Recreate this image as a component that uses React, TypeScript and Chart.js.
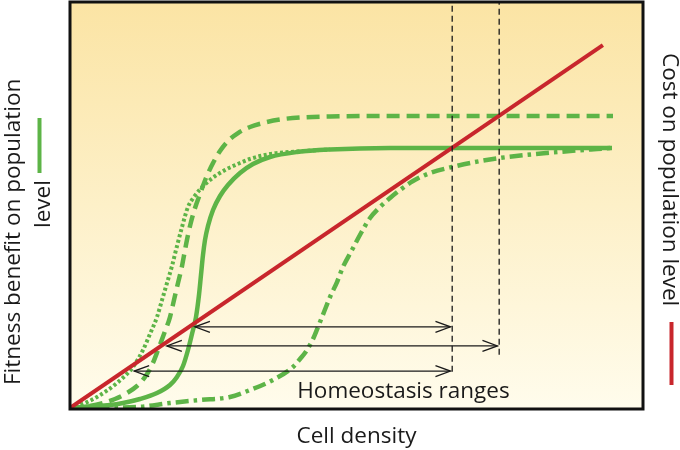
import React, { useEffect, useRef } from "react";
import { Chart, registerables } from "chart.js";

Chart.register(...registerables);

// ---- Data (x: cell density 0..100, y: level 0..100) ----
const solidX = [0, 2.97, 6.98, 9.25, 12.22, 15.18, 17.45, 18.67, 19.72, 20.59, 21.29, 21.99, 22.51, 22.86, 23.21, 23.56, 24.08, 24.96, 26.18, 27.57, 29.67, 31.94, 34.9, 39.62, 45.38, 55.85, 94.59];
const solidY = [0, 0.37, 0.74, 1.23, 2.22, 3.69, 5.67, 7.64, 10.34, 14.29, 18.23, 22.41, 27.83, 32.76, 37.68, 41.38, 44.83, 48.77, 52.22, 54.93, 57.88, 60.1, 61.82, 63.05, 63.67, 64.04, 64.04];

const dashedX = [0, 2.27, 5.76, 7.85, 9.95, 11.69, 13.09, 14.31, 15.36, 16.4, 17.45, 18.15, 18.85, 19.55, 20.07, 20.59, 21.12, 21.82, 22.69, 23.73, 24.96, 26.18, 27.57, 29.32, 31.41, 33.68, 36.65, 40.14, 45.38, 55.85, 94.76];
const dashedY = [0, 0.25, 1.23, 2.22, 3.69, 5.42, 7.64, 10.59, 14.29, 18.23, 22.41, 26.6, 30.79, 34.98, 38.92, 42.61, 45.81, 49.26, 52.71, 56.65, 60.34, 63.3, 65.76, 67.73, 69.21, 70.2, 71.06, 71.55, 71.8, 71.92, 71.92];

const dottedX = [0, 1.75, 4.71, 8.2, 10.99, 12.74, 13.96, 15.18, 16.06, 16.93, 17.8, 18.5, 19.55, 20.59, 21.64, 22.69, 24.43, 27.05, 29.67, 31.41, 34.9, 39.62, 45.38];
const dottedY = [0, 0.74, 2.71, 6.16, 10.1, 14.29, 18.23, 22.41, 26.6, 30.79, 34.98, 38.92, 44.58, 49.51, 51.97, 53.82, 56.16, 58.62, 60.34, 61.33, 62.56, 63.18, 63.67];

const dashDotX = [0, 11.69, 17.45, 22.69, 27.92, 31.41, 35.43, 38.92, 40.14, 41.36, 42.41, 43.28, 44.33, 45.38, 46.6, 47.64, 49.21, 50.79, 52.36, 54.1, 55.85, 57.59, 59.86, 62.83, 66.67, 70.68, 75.04, 83.25, 91.97, 94.59];
const dashDotY = [0, 0.25, 1.23, 1.97, 2.71, 4.43, 6.9, 10.1, 12.07, 14.29, 17.0, 19.95, 23.65, 27.34, 31.03, 34.73, 38.92, 43.1, 46.8, 49.51, 51.72, 53.69, 55.91, 57.88, 59.36, 60.59, 61.58, 62.81, 63.79, 64.04];

const costX = [0, 93.0];
const costY = [0, 89.4];

// vertical dashed markers (homeostasis thresholds)
const markerX = [66.7, 74.9];
const markerBottom = [8.9, 13.1];
const markerTop = 100;

// homeostasis range arrows
const arrowY = [20.0, 15.3, 9.1];
const arrowStart = [21.8, 16.9, 11.2];
const arrowEnd = [66.4, 74.6, 66.4];

const rangeLabel = "Homeostasis ranges";
const rangeLabelX = 58.2;
const rangeLabelY = 2.5;

const xTitle = "Cell density";
const leftTitle = ["Fitness benefit on population", "level"];
const rightTitle = "Cost on population level";

const GREEN = "#5db447";
const RED = "#c8262c";
const INK = "#1a1a1a";
const FONT = "22.5px 'Open Sans'";

const pts = (xs: number[], ys: number[]) => xs.map((x, i) => ({ x, y: ys[i] }));

export default function App() {
  const ref = useRef<HTMLCanvasElement | null>(null);

  useEffect(() => {
    const canvas = ref.current;
    if (!canvas) return;

    const bgPlugin = {
      id: "bg",
      beforeDatasetsDraw(chart: any) {
        const { ctx, chartArea: a } = chart;
        const g = ctx.createLinearGradient(0, a.top, 0, a.bottom);
        g.addColorStop(0, "#fbe4a4");
        g.addColorStop(1, "#fffcec");
        ctx.save();
        ctx.fillStyle = g;
        ctx.fillRect(a.left, a.top, a.right - a.left, a.bottom - a.top);
        ctx.restore();
      },
    };

    const decoPlugin = {
      id: "deco",
      afterDatasetsDraw(chart: any) {
        const { ctx } = chart;
        const xs = chart.scales.x;
        const ys = chart.scales.y;
        ctx.save();
        ctx.strokeStyle = INK;
        ctx.lineWidth = 1.3;
        const head = (tx: number, ty: number, dir: number) => {
          ctx.beginPath();
          ctx.moveTo(tx + dir * 15, ty - 5.5);
          ctx.lineTo(tx, ty);
          ctx.lineTo(tx + dir * 15, ty + 5.5);
          ctx.stroke();
        };
        arrowY.forEach((yv, i) => {
          const py = ys.getPixelForValue(yv);
          head(xs.getPixelForValue(arrowStart[i]), py, 1);
          head(xs.getPixelForValue(arrowEnd[i]), py, -1);
        });
        ctx.fillStyle = INK;
        ctx.font = FONT;
        ctx.textAlign = "center";
        ctx.textBaseline = "alphabetic";
        ctx.fillText(rangeLabel, xs.getPixelForValue(rangeLabelX), ys.getPixelForValue(rangeLabelY));
        ctx.restore();
      },
      afterDraw(chart: any) {
        const { ctx, chartArea: a } = chart;
        ctx.save();
        ctx.strokeStyle = "#111";
        ctx.lineWidth = 3;
        ctx.strokeRect(a.left, a.top, a.right - a.left, a.bottom - a.top + 1);
        ctx.fillStyle = INK;
        ctx.font = FONT;
        ctx.textBaseline = "alphabetic";
        ctx.textAlign = "center";
        ctx.fillText(xTitle, (a.left + a.right) / 2, a.bottom + 35);
        ctx.textAlign = "left";
        ctx.save();
        ctx.translate(a.left - 50, a.bottom - 23);
        ctx.rotate(-Math.PI / 2);
        ctx.fillText(leftTitle[0], 0, 0);
        ctx.restore();
        ctx.save();
        ctx.translate(a.left - 20, a.bottom - 180);
        ctx.rotate(-Math.PI / 2);
        ctx.fillText(leftTitle[1], 0, 0);
        ctx.restore();
        ctx.strokeStyle = GREEN;
        ctx.lineWidth = 4;
        ctx.beginPath();
        ctx.moveTo(a.left - 30.5, a.bottom - 235);
        ctx.lineTo(a.left - 30.5, a.bottom - 290);
        ctx.stroke();
        ctx.save();
        ctx.translate(a.right + 20, a.top + 51);
        ctx.rotate(Math.PI / 2);
        ctx.fillText(rightTitle, 0, 0);
        ctx.restore();
        ctx.strokeStyle = RED;
        ctx.lineWidth = 4;
        ctx.beginPath();
        ctx.moveTo(a.right + 28.5, a.top + 320);
        ctx.lineTo(a.right + 28.5, a.top + 383);
        ctx.stroke();
        ctx.restore();
      },
    };

    const curve = (data: any, color: string, width: number, dash: number[], order: number) => ({
      data,
      showLine: true,
      borderColor: color,
      borderWidth: width,
      borderDash: dash,
      borderCapStyle: "butt",
      borderJoinStyle: "round",
      pointRadius: 0,
      pointHoverRadius: 0,
      cubicInterpolationMode: "monotone",
      fill: false,
      order,
    });

    const datasets: any[] = [
      curve(pts(dottedX, dottedY), GREEN, 4, [3, 2.5], 9),
      curve(pts(dashedX, dashedY), GREEN, 4.5, [13, 7], 8),
      curve(pts(dashDotX, dashDotY), GREEN, 4.5, [13, 5, 3.5, 5], 7),
      curve(pts(solidX, solidY), GREEN, 4.5, [], 6),
      curve(pts(costX, costY), RED, 4, [], 5),
    ];
    markerX.forEach((mx, i) => {
      datasets.push({
        ...curve([{ x: mx, y: markerBottom[i] }, { x: mx, y: markerTop }], INK, 1.3, [6, 4], 2),
        cubicInterpolationMode: "default",
      });
    });
    arrowY.forEach((yv, i) => {
      datasets.push({
        ...curve([{ x: arrowStart[i], y: yv }, { x: arrowEnd[i], y: yv }], INK, 1.3, [], 3),
        cubicInterpolationMode: "default",
      });
    });

    const chart = new Chart(canvas, {
      type: "scatter",
      data: { datasets },
      options: {
        animation: false,
        responsive: false,
        devicePixelRatio: 1,
        layout: { padding: { left: 70, right: 37, top: 2, bottom: 42 } },
        plugins: { legend: { display: false }, tooltip: { enabled: false } },
        events: [],
        scales: {
          x: { type: "linear", min: 0, max: 100, display: false },
          y: { type: "linear", min: 0, max: 100, display: false },
        },
      },
      plugins: [bgPlugin, decoPlugin],
    } as any);

    return () => chart.destroy();
  }, []);

  return (
    <div style={{ position: "fixed", left: 0, top: 0, width: 680, height: 450, background: "#fff" }}>
      <canvas ref={ref} width={680} height={450} />
    </div>
  );
}
